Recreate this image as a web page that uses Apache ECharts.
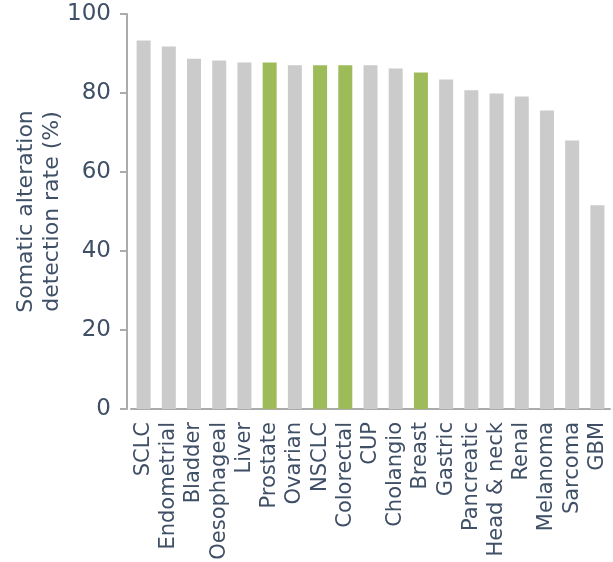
<!DOCTYPE html>
<html>
<head>
<meta charset="utf-8">
<script src="https://cdn.jsdelivr.net/npm/echarts@6/dist/echarts.min.js"></script>
<style>
  html, body { margin: 0; padding: 0; background: #fff; }
  #main { width: 613px; height: 562px; }
</style>
</head>
<body>
<div id="main"></div>
<script>
var categories = ['SCLC', 'Endometrial', 'Bladder', 'Oesophageal', 'Liver', 'Prostate', 'Ovarian',
  'NSCLC', 'Colorectal', 'CUP', 'Cholangio', 'Breast', 'Gastric', 'Pancreatic', 'Head & neck',
  'Renal', 'Melanoma', 'Sarcoma', 'GBM'];
var rates = [93.3, 91.8, 88.7, 88.2, 87.7, 87.7, 87.0, 87.0, 87.0, 87.0, 86.2, 85.2, 83.4,
  80.7, 79.9, 79.1, 75.6, 68.0, 51.6];
var highlighted = ['Prostate', 'NSCLC', 'Colorectal', 'Breast'];
var yTicks = [0, 20, 40, 60, 80, 100];

var textColor = '#3f4f66';
var font = 'DejaVu Sans';

var myChart = echarts.init(document.getElementById('main'));
myChart.setOption({
  animation: false,
  grid: { left: 131, right: 3, top: 14, bottom: 153, outerBoundsMode: 'none', containLabel: false },
  xAxis: {
    type: 'category',
    data: categories,
    axisLine: { lineStyle: { color: '#ababab', width: 2 } },
    axisTick: { show: false },
    axisLabel: {
      rotate: 90,
      margin: 13,
      color: textColor,
      fontFamily: font,
      fontSize: 21,
      interval: 0
    }
  },
  yAxis: {
    type: 'value',
    min: yTicks[0],
    max: yTicks[yTicks.length - 1],
    interval: 20,
    offset: 4,
    name: 'Somatic alteration\ndetection rate (%)',
    nameLocation: 'middle',
    nameGap: 62,
    nameMoveOverlap: false,
    nameRotate: 90,
    nameTextStyle: { color: textColor, fontFamily: font, fontSize: 22, lineHeight: 26 },
    splitLine: { show: false },
    axisLine: { show: true, lineStyle: { color: '#ababab', width: 2 } },
    axisTick: { show: true, length: 7, lineStyle: { color: '#ababab', width: 2 } },
    axisLabel: { color: textColor, fontFamily: font, fontSize: 23, margin: 16 }
  },
  series: [{
    type: 'bar',
    barWidth: 14,
    data: rates.map(function (v, i) {
      return {
        value: v,
        itemStyle: { color: highlighted.indexOf(categories[i]) >= 0 ? '#9dbb59' : '#cbcbcb' }
      };
    })
  }]
});
</script>
</body>
</html>
